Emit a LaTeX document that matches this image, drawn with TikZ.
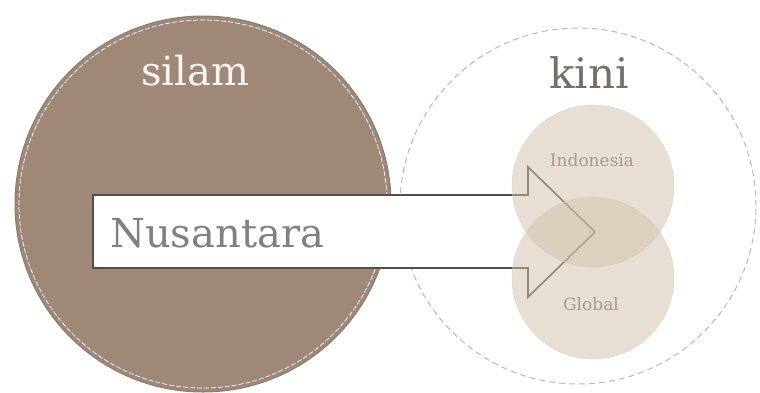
\documentclass[tikz,border=0pt]{standalone}
\usepackage{fontspec}
\setmainfont{DejaVu Serif}
\definecolor{bigbrown}{RGB}{160,136,120}
\definecolor{bigedge}{RGB}{140,125,115}
\definecolor{dashgrey}{RGB}{185,185,185}
\definecolor{smallfill}{RGB}{208,192,170}
\definecolor{smalledge}{RGB}{215,205,192}
\definecolor{arrowedge}{RGB}{85,78,72}
\definecolor{nustext}{RGB}{130,128,126}
\definecolor{kinitext}{RGB}{120,110,102}
\definecolor{smalltext}{RGB}{170,152,140}
\tikzset{
  bigcircle/.style={circle, fill=bigbrown, draw=bigedge, line width=1pt, minimum size=376pt, inner sep=0pt},
  outercircle/.style={circle, draw=dashgrey, dashed, dash pattern=on 6pt off 4pt, line width=1pt, minimum size=356pt, inner sep=0pt},
  smallcircle/.style={circle, fill=smallfill, fill opacity=0.5, draw=smalledge, draw opacity=0.6, line width=0.6pt, minimum size=162pt, inner sep=0pt},
  arrowbody/.style={fill=white, draw=arrowedge, line width=1.6pt, line join=miter},
  bigtitle/.style={inner sep=0pt, anchor=base},
  smalllabel/.style={font=\fontsize{17}{19}\selectfont, text=smalltext, inner sep=0pt}
}
\begin{document}
\begin{tikzpicture}[x=1pt,y=-1pt]
\useasboundingbox (0,0) rectangle (760,392);
\begin{scope}
\clip (0,0) rectangle (760,392);
\node[bigcircle] (past) at (203,204) {};
\draw[white, line width=0.7pt, dash pattern=on 5pt off 2pt] (past.center) circle (184pt);
\node[outercircle] (now) at (578,206) {};
\node[bigtitle, font=\fontsize{40}{42}\selectfont, text=white!92!bigbrown] (silam) at (195,85) {silam};
\node[bigtitle, font=\fontsize{42}{44}\selectfont, text=kinitext] (kini) at (589,88) {kini};
\draw[arrowbody] (93,195) -- (528,195) -- (528,167) -- (595,232) -- (528,297) -- (528,268) -- (93,268) -- cycle;
\coordinate (tip) at (595,232);
\node[font=\fontsize{40}{42}\selectfont, text=nustext, anchor=west, inner sep=0pt] (nus) at (110,233) {Nusantara};
\node[smallcircle] (indo) at (593,186) {};
\node[smallcircle] (glob) at (593,278) {};
\node[smalllabel] (indolbl) at (592,160) {Indonesia};
\node[smalllabel] (globlbl) at (591,304) {Global};
\end{scope}
\end{tikzpicture}
\end{document}
